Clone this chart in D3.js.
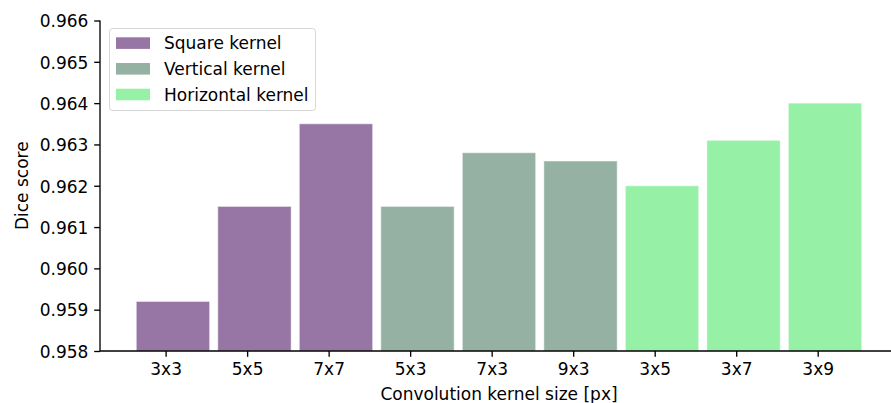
<!DOCTYPE html>
<html>
<head>
<meta charset="utf-8">
<script src="https://cdn.jsdelivr.net/npm/d3@7"></script>
<style>
  html, body { margin: 0; padding: 0; background: #fff; }
  svg { display: block; font-family: "DejaVu Sans", sans-serif; }
</style>
</head>
<body>
<svg id="chart" width="891" height="403"></svg>
<script>
// Kernel sizes along the x axis
const categories = ["3x3", "5x5", "7x7", "5x3", "7x3", "9x3", "3x5", "3x7", "3x9"];
// Dice score for each kernel size
const diceScores = [0.9592, 0.9615, 0.9635, 0.9615, 0.9628, 0.9626, 0.9620, 0.9631, 0.9640];
// Kernel family of each bar
const kernelGroup = ["Square kernel", "Square kernel", "Square kernel",
                     "Vertical kernel", "Vertical kernel", "Vertical kernel",
                     "Horizontal kernel", "Horizontal kernel", "Horizontal kernel"];
const groupNames = ["Square kernel", "Vertical kernel", "Horizontal kernel"];
const groupColors = ["#9776a5", "#95b1a3", "#96f0a6"];
const yTicks = [0.958, 0.959, 0.960, 0.961, 0.962, 0.963, 0.964, 0.965, 0.966];

const fs = 17;            // font size in px
const tickLen = 5.8;
const tickPad = 5.8;
const barWidth = 0.9;
const barShift = 0.09;

const svg = d3.select("#chart");
const plotLeft = 100, plotRight = 898, plotTop = 20.5, plotBottom = 351;

const x = d3.scaleLinear().domain([-0.805, 8.985]).range([plotLeft, plotRight]);
const y = d3.scaleLinear().domain([0.958, 0.966]).range([plotBottom, plotTop]);
const color = d3.scaleOrdinal().domain(groupNames).range(groupColors);

// Bars
svg.append("g").selectAll("rect")
  .data(diceScores)
  .join("rect")
  .attr("x", (d, i) => x(i + barShift - barWidth / 2))
  .attr("width", (d, i) => x(i + barShift + barWidth / 2) - x(i + barShift - barWidth / 2))
  .attr("y", d => y(d))
  .attr("height", d => y(0.958) - y(d))
  .attr("fill", (d, i) => color(kernelGroup[i]))
  .attr("stroke", "#ffffff")
  .attr("stroke-opacity", 0.5)
  .attr("stroke-width", 1);

// Y axis
const yAxis = d3.axisLeft(y)
  .tickValues(yTicks)
  .tickFormat(d3.format(".3f"))
  .tickSize(tickLen)
  .tickPadding(tickPad);
const gy = svg.append("g").attr("transform", `translate(${plotLeft},0)`).call(yAxis);
gy.select(".domain").attr("d", `M0,${plotBottom}V${plotTop}`).attr("stroke", "#000").attr("stroke-width", 1.34);
gy.selectAll(".tick line").attr("stroke", "#000").attr("stroke-width", 1.34);
gy.selectAll(".tick text")
  .attr("font-size", fs).attr("font-family", "DejaVu Sans, sans-serif")
  .attr("fill", "#000").attr("dy", "0.37em");

// X axis
const xAxis = d3.axisBottom(x)
  .tickValues(d3.range(categories.length))
  .tickFormat(i => categories[i])
  .tickSize(tickLen)
  .tickPadding(tickPad);
const gx = svg.append("g").attr("transform", `translate(0,${plotBottom})`).call(xAxis);
gx.select(".domain").attr("d", `M${plotLeft},0H${plotRight}`).attr("stroke", "#000").attr("stroke-width", 1.34);
gx.selectAll(".tick line").attr("stroke", "#000").attr("stroke-width", 1.34);
gx.selectAll(".tick text")
  .attr("font-size", fs).attr("font-family", "DejaVu Sans, sans-serif")
  .attr("fill", "#000").attr("dy", "0.73em");

// Axis titles
svg.append("text")
  .attr("x", (plotLeft + plotRight) / 2).attr("y", 400)
  .attr("text-anchor", "middle").attr("font-size", fs)
  .text("Convolution kernel size [px]");
svg.append("text")
  .attr("transform", `translate(28.3,${(plotTop + plotBottom) / 2}) rotate(-90)`)
  .attr("text-anchor", "middle").attr("font-size", fs)
  .text("Dice score");

// Legend
const legend = svg.append("g");
legend.append("rect")
  .attr("x", 109.5).attr("y", 28.5).attr("width", 206).attr("height", 82)
  .attr("rx", 3).attr("fill", "#fff").attr("fill-opacity", 0.8)
  .attr("stroke", "#d6d6d6").attr("stroke-width", 1);
const items = legend.selectAll("g.item").data(groupNames).join("g")
  .attr("class", "item")
  .attr("transform", (d, i) => `translate(0,${i * 25.7})`);
items.append("rect")
  .attr("x", 116).attr("y", 37.3).attr("width", 34).attr("height", 11.6)
  .attr("fill", d => color(d));
items.append("text")
  .attr("x", 164).attr("y", 49.2)
  .attr("font-size", fs)
  .text(d => d);
</script>
</body>
</html>
